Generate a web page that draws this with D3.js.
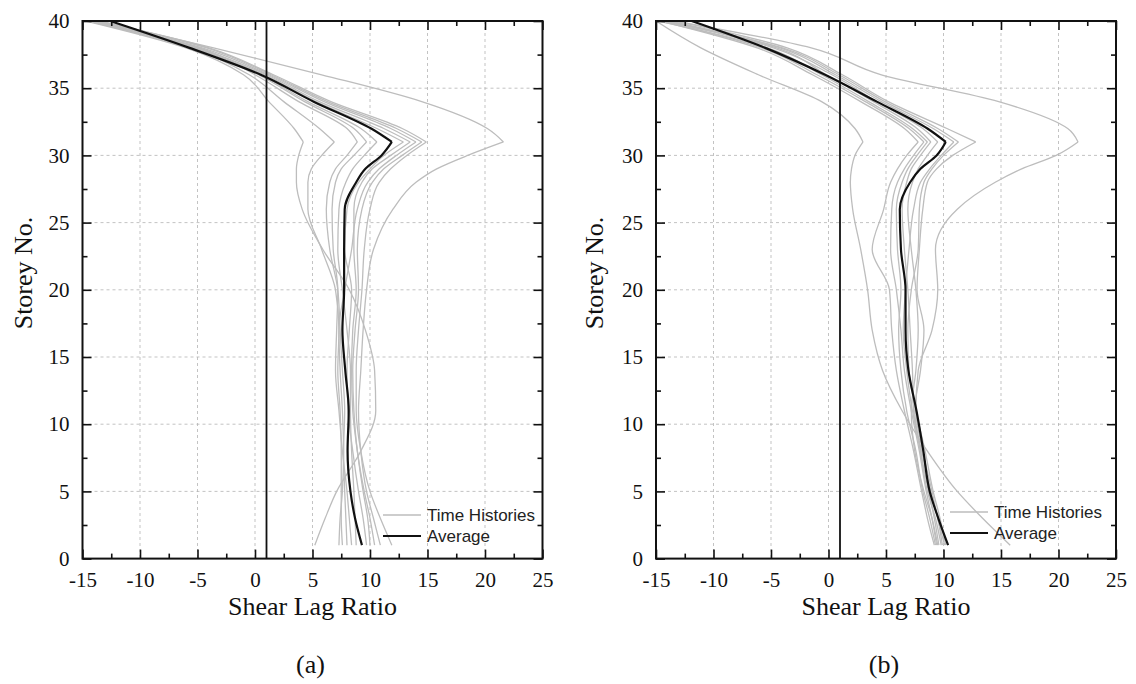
<html>
<head>
<meta charset="utf-8">
<title>Shear Lag Ratio</title>
<script src="https://d3js.org/d3.v7.min.js"></script>
<style>
body { margin: 0; background: #fff; }
</style>
</head>
<body>
<div id="chart"></div>
<script>
var storeys = [1, 3, 5, 8, 11, 14, 17, 20, 23, 26, 28, 29, 30, 31, 32, 34, 36, 38, 40];

// (a) time histories, one row per record
var historiesA = [
  [5.2, 6.1, 7.1, 9.2, 10.5, 10.4, 9.6, 8.2, 5.9, 4.1, 3.6, 3.6, 3.8, 4.2, 3.4, 1.2, -1.0, -6.0, -14.7],
  [7.6, 7.5, 7.5, 7.5, 7.4, 7.2, 7.3, 7.0, 5.8, 4.6, 4.6, 4.9, 5.8, 6.9, 5.6, 2.5, -0.5, -5.6, -14.5],
  [8.0, 7.9, 7.8, 7.7, 7.8, 7.6, 7.4, 7.2, 6.5, 6.2, 6.5, 7.0, 8.0, 8.9, 8.0, 3.8, 0.0, -4.8, -14.3],
  [8.4, 8.2, 8.0, 7.6, 7.3, 7.0, 7.1, 7.2, 6.8, 6.7, 7.0, 7.5, 8.6, 9.7, 8.6, 4.3, 0.3, -5.0, -14.5],
  [8.8, 8.7, 8.6, 8.4, 8.3, 8.3, 8.0, 7.6, 7.2, 7.3, 7.9, 8.5, 9.5, 10.6, 9.2, 4.6, 0.4, -5.2, -14.3],
  [9.7, 9.4, 9.0, 8.5, 8.1, 8.0, 8.2, 8.4, 7.8, 8.0, 9.0, 10.0, 11.2, 12.9, 10.6, 5.3, 0.8, -5.4, -14.2],
  [10.0, 9.8, 9.4, 8.9, 8.5, 8.4, 8.5, 8.8, 8.6, 8.6, 9.3, 10.2, 11.8, 13.5, 11.2, 5.6, 1.0, -5.0, -14.0],
  [7.3, 7.4, 7.6, 7.7, 7.6, 7.4, 7.3, 7.8, 8.4, 8.9, 9.8, 10.8, 12.3, 14.0, 11.8, 6.0, 1.2, -4.6, -14.4],
  [10.4, 10.0, 9.5, 8.9, 8.6, 8.5, 8.7, 9.0, 8.9, 9.3, 10.2, 11.2, 12.8, 14.5, 12.3, 6.3, 1.4, -4.2, -13.8],
  [11.9, 10.9, 10.0, 9.2, 8.8, 8.8, 9.0, 9.3, 9.5, 10.0, 10.8, 11.8, 13.2, 14.9, 12.8, 6.6, 1.6, -4.0, -13.6],
  [10.9, 10.3, 9.7, 9.2, 9.0, 9.2, 9.4, 9.7, 10.3, 12.0, 14.0, 15.8, 18.5, 21.6, 20.2, 14.5, 5.8, -3.6, -13.5]
];
var averageA = [9.3, 8.7, 8.3, 8.05, 8.15, 7.85, 7.6, 7.75, 7.75, 7.8, 8.8, 9.6, 11.0, 11.9, 10.1, 5.1, 0.5, -5.7, -12.6];

// (b) time histories
var historiesB = [
  [15.8, 13.4, 11.2, 8.6, 6.4, 4.7, 3.8, 3.4, 2.8, 2.1, 1.9, 2.0, 2.3, 3.0, 2.3, -0.6, -6.1, -11.1, -15.0],
  [9.2, 8.6, 8.1, 7.4, 6.6, 5.9, 5.5, 5.3, 3.8, 4.8, 5.4, 6.0, 6.8, 7.8, 6.6, 2.8, -1.4, -6.2, -14.6],
  [9.4, 9.0, 8.5, 7.9, 7.2, 6.6, 6.3, 5.9, 5.4, 5.5, 6.0, 6.6, 7.4, 8.3, 7.0, 3.2, -1.0, -5.8, -14.4],
  [9.3, 8.8, 8.2, 7.6, 6.8, 6.3, 6.1, 6.3, 6.0, 5.9, 6.4, 6.9, 7.7, 8.6, 7.3, 3.5, -0.6, -5.3, -14.8],
  [9.6, 9.2, 8.7, 8.0, 7.4, 7.3, 7.1, 6.9, 6.6, 6.4, 6.8, 7.2, 8.0, 8.9, 7.7, 3.9, -0.2, -4.5, -14.2],
  [9.5, 9.0, 8.3, 7.5, 7.2, 7.6, 7.8, 7.6, 7.2, 6.9, 7.3, 7.8, 8.6, 9.5, 8.2, 4.2, 0.3, -4.8, -14.0],
  [9.9, 9.5, 8.9, 8.1, 7.3, 6.8, 6.5, 6.7, 7.0, 7.4, 8.0, 8.8, 9.8, 10.9, 9.1, 4.6, 0.6, -4.2, -13.8],
  [10.2, 9.7, 9.1, 8.4, 7.6, 7.0, 6.9, 7.2, 7.8, 7.9, 8.3, 9.0, 10.0, 11.3, 9.5, 4.9, 0.9, -4.0, -14.4],
  [9.8, 9.3, 8.6, 8.0, 7.5, 8.0, 8.3, 7.7, 7.9, 8.2, 8.6, 9.4, 10.8, 12.8, 10.3, 5.2, 1.2, -3.6, -13.2],
  [10.1, 9.5, 9.0, 8.2, 7.6, 7.8, 9.0, 9.5, 9.3, 11.2, 14.5, 16.8, 19.8, 21.7, 20.8, 14.8, 4.6, -1.5, -13.5]
];
var averageB = [10.4, 9.55, 8.8, 8.25, 7.65, 6.95, 6.7, 6.7, 6.3, 6.2, 7.1, 8.0, 9.4, 10.2, 8.6, 4.2, -0.3, -5.5, -11.9];

var xTicks = [-15, -10, -5, 0, 5, 10, 15, 20, 25];
var xMinor = [-12.5, -7.5, -2.5, 2.5, 7.5, 12.5, 17.5, 22.5];
var yTicks = [0, 5, 10, 15, 20, 25, 30, 35, 40];
var yMinor = [2.5, 7.5, 12.5, 17.5, 22.5, 27.5, 32.5, 37.5];
var xGrid = [-10, -5, 0, 5, 10, 15, 20];
var yGrid = [5, 10, 15, 20, 25, 30, 35];
var refRatio = 1;      // vertical line at shear lag ratio = 1
var kinkStorey = 31;   // curves have a sharp corner here
var legendLabels = ["Time Histories", "Average"];
var panelLabels = ["(a)", "(b)"];

var width = 1136, height = 684;
var plotTop = 21, plotBottom = 558.6;
var serif = "'Liberation Serif', 'Times New Roman', serif";
var sans = "'Liberation Sans', Arial, sans-serif";

var panels = [
  {left: 82.5, right: 542.5, hist: historiesA, avg: averageA, legX: 383, legY: 515, yTitleX: 32},
  {left: 656, right: 1116, hist: historiesB, avg: averageB, legX: 950, legY: 512, yTitleX: 603}
];

var svg = d3.select("#chart").append("svg")
    .attr("width", width)
    .attr("height", height)
    .style("display", "block");

svg.append("rect").attr("width", width).attr("height", height).attr("fill", "#fff");

panels.forEach(function(p, pi) {
    var x = d3.scaleLinear().domain([-15, 25]).range([p.left, p.right]);
    var y = d3.scaleLinear().domain([0, 40]).range([plotBottom, plotTop]);
    var g = svg.append("g");

    // dashed grid
    g.selectAll(".gx").data(xGrid).enter().append("line")
        .attr("x1", function(d) { return x(d); }).attr("x2", function(d) { return x(d); })
        .attr("y1", plotTop).attr("y2", plotBottom)
        .attr("stroke", "#b4b4b4").attr("stroke-width", 0.8).attr("stroke-dasharray", "3,3");
    g.selectAll(".gy").data(yGrid).enter().append("line")
        .attr("x1", p.left).attr("x2", p.right)
        .attr("y1", function(d) { return y(d); }).attr("y2", function(d) { return y(d); })
        .attr("stroke", "#b4b4b4").attr("stroke-width", 0.8).attr("stroke-dasharray", "3,3");

    svg.append("clipPath").attr("id", "clip" + pi).append("rect")
        .attr("x", p.left).attr("y", plotTop)
        .attr("width", p.right - p.left).attr("height", plotBottom - plotTop);

    var curves = g.append("g").attr("clip-path", "url(#clip" + pi + ")");
    var line = d3.line()
        .x(function(d) { return x(d[1]); })
        .y(function(d) { return y(d[0]); })
        .curve(d3.curveMonotoneY);

    // split at the kink so the corner stays sharp
    function pieces(vals) {
        var pts = storeys.map(function(s, i) { return [s, vals[i]]; });
        var lower = pts.filter(function(d) { return d[0] <= kinkStorey; }).reverse();
        var upper = pts.filter(function(d) { return d[0] >= kinkStorey; }).reverse();
        return [upper, lower];
    }

    p.hist.forEach(function(vals) {
        pieces(vals).forEach(function(seg) {
            curves.append("path").attr("d", line(seg))
                .attr("fill", "none").attr("stroke", "#bdbdbd").attr("stroke-width", 1.3);
        });
    });
    pieces(p.avg).forEach(function(seg) {
        curves.append("path").attr("d", line(seg))
            .attr("fill", "none").attr("stroke", "#111").attr("stroke-width", 2.2);
    });

    g.append("line")
        .attr("x1", x(refRatio)).attr("x2", x(refRatio))
        .attr("y1", plotTop).attr("y2", plotBottom)
        .attr("stroke", "#111").attr("stroke-width", 1.8);

    // ticks on all four sides, pointing inward
    function axis(gen, tx, ty, vals, size, pad, labels) {
        var a = gen.tickValues(vals).tickSize(-size).tickSizeOuter(0).tickPadding(pad)
            .tickFormat(labels ? function(d) { return String(d); } : "");
        var ax = g.append("g").attr("transform", "translate(" + tx + "," + ty + ")").call(a);
        ax.select(".domain").remove();
        ax.selectAll("line").attr("stroke", "#111").attr("stroke-width", 1.6);
        ax.selectAll("text").style("font-family", serif).style("font-size", "21px").attr("fill", "#111");
        return ax;
    }
    axis(d3.axisBottom(x), 0, plotBottom, xTicks, 9, 13.5, true);
    axis(d3.axisBottom(x), 0, plotBottom, xMinor, 5, 0, false);
    axis(d3.axisTop(x), 0, plotTop, xTicks, 9, 0, false);
    axis(d3.axisTop(x), 0, plotTop, xMinor, 5, 0, false);
    axis(d3.axisLeft(y), p.left, 0, yTicks, 9, 13, true);
    axis(d3.axisLeft(y), p.left, 0, yMinor, 5, 0, false);
    axis(d3.axisRight(y), p.right, 0, yTicks, 9, 0, false);
    axis(d3.axisRight(y), p.right, 0, yMinor, 5, 0, false);

    g.append("rect")
        .attr("x", p.left).attr("y", plotTop)
        .attr("width", p.right - p.left).attr("height", plotBottom - plotTop)
        .attr("fill", "none").attr("stroke", "#111").attr("stroke-width", 2);

    // legend
    var colors = ["#bdbdbd", "#111"];
    var widths = [1.3, 2.2];
    legendLabels.forEach(function(t, i) {
        var ly = p.legY + i * 21;
        g.append("line")
            .attr("x1", p.legX).attr("x2", p.legX + 38)
            .attr("y1", ly).attr("y2", ly)
            .attr("stroke", colors[i]).attr("stroke-width", widths[i]);
        g.append("text")
            .attr("x", p.legX + 44).attr("y", ly + 6)
            .style("font-family", sans).style("font-size", "17px")
            .attr("fill", "#222")
            .text(t);
    });

    // titles
    g.append("text")
        .attr("x", (p.left + p.right) / 2).attr("y", 615)
        .attr("text-anchor", "middle")
        .style("font-family", serif).style("font-size", "26px").attr("fill", "#111")
        .text("Shear Lag Ratio");
    g.append("text")
        .attr("transform", "translate(" + p.yTitleX + ",273)rotate(-90)")
        .attr("text-anchor", "middle")
        .style("font-family", serif).style("font-size", "26px").attr("fill", "#111")
        .text("Storey No.");
    g.append("text")
        .attr("x", (p.left + p.right) / 2 - 2).attr("y", 673)
        .attr("text-anchor", "middle")
        .style("font-family", serif).style("font-size", "26px").attr("fill", "#111")
        .text(panelLabels[pi]);
});
</script>
</body>
</html>
